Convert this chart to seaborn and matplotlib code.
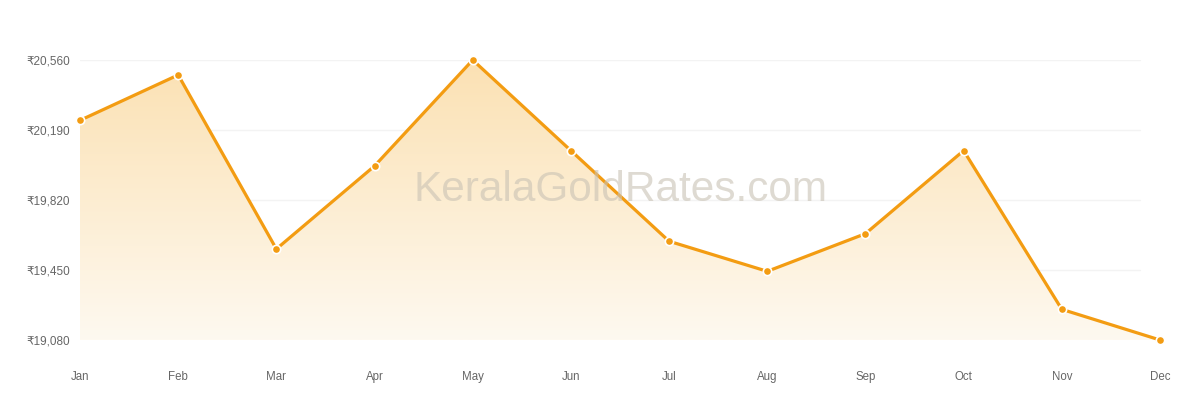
import matplotlib
matplotlib.use("Agg")
import matplotlib.pyplot as plt
import numpy as np
import pandas as pd
import seaborn as sns
from matplotlib.patches import Polygon
from matplotlib.colors import LinearSegmentedColormap

months = ["Jan", "Feb", "Mar", "Apr", "May", "Jun", "Jul", "Aug", "Sep", "Oct", "Nov", "Dec"]
rates = [20241, 20481, 19561, 20000, 20560, 20081, 19602, 19443, 19642, 20081, 19242, 19080]
y_ticks = [19080, 19450, 19820, 20190, 20560]
y_tick_labels = ["₹19,080", "₹19,450", "₹19,820", "₹20,190", "₹20,560"]
watermark = "KeralaGoldRates.com"

sns.set_theme(style="white")
plt.rcParams["font.family"] = ["Liberation Sans", "DejaVu Sans"]

df = pd.DataFrame({"month": months, "rate": rates})
df["x"] = np.arange(len(months))

fig = plt.figure(figsize=(12, 4), dpi=100)
ax = fig.add_axes([80 / 1200, 60 / 400, 1080 / 1200, 280 / 400])

line_color = "#F39C12"
ymin, ymax = y_ticks[0], y_ticks[-1]
ax.set_xlim(0, len(months) - 1)
ax.set_ylim(ymin, ymax)

# grid lines (end slightly before last category like reference)
for t in y_ticks:
    ax.axhline(t, xmin=0, xmax=(1140 - 80) / 1080, color="#f3f3f3", lw=1, zorder=0)

# gradient fill under line
grad = np.linspace(0, 1, 256).reshape(-1, 1)
cmap = LinearSegmentedColormap.from_list("g", ["#FEF9F0", "#FBE1B3"])
im = ax.imshow(grad, extent=[0, len(months) - 1, ymin, ymax], origin="lower",
               aspect="auto", cmap=cmap, zorder=1)
verts = [(0, ymin)] + list(zip(df["x"], df["rate"])) + [(len(months) - 1, ymin)]
poly = Polygon(verts, closed=True, transform=ax.transData, facecolor="none", edgecolor="none")
ax.add_patch(poly)
im.set_clip_path(poly)

sns.lineplot(data=df, x="x", y="rate", ax=ax, color=line_color, lw=2.3, zorder=3,
             marker="o", markersize=6, markerfacecolor=line_color,
             markeredgecolor="white", markeredgewidth=1.2, clip_on=False)

ax.text(0.517, 0.525, watermark, transform=fig.transFigure, ha="center", va="center",
        fontsize=30.5, color="#c9c2b4", alpha=0.6, zorder=4)

ax.set_xticks(df["x"])
ax.set_xticklabels(months)
ax.set_yticks(y_ticks)
ax.set_yticklabels(y_tick_labels)
ax.tick_params(axis="x", length=0, pad=22, labelsize=8.3, labelcolor="#666666")
ax.tick_params(axis="y", length=0, pad=7, labelsize=8.5, labelcolor="#666666")
ax.set_xlabel("")
ax.set_ylabel("")
for s in ax.spines.values():
    s.set_visible(False)
ax.grid(False)

fig.savefig("out.png", dpi=100)
